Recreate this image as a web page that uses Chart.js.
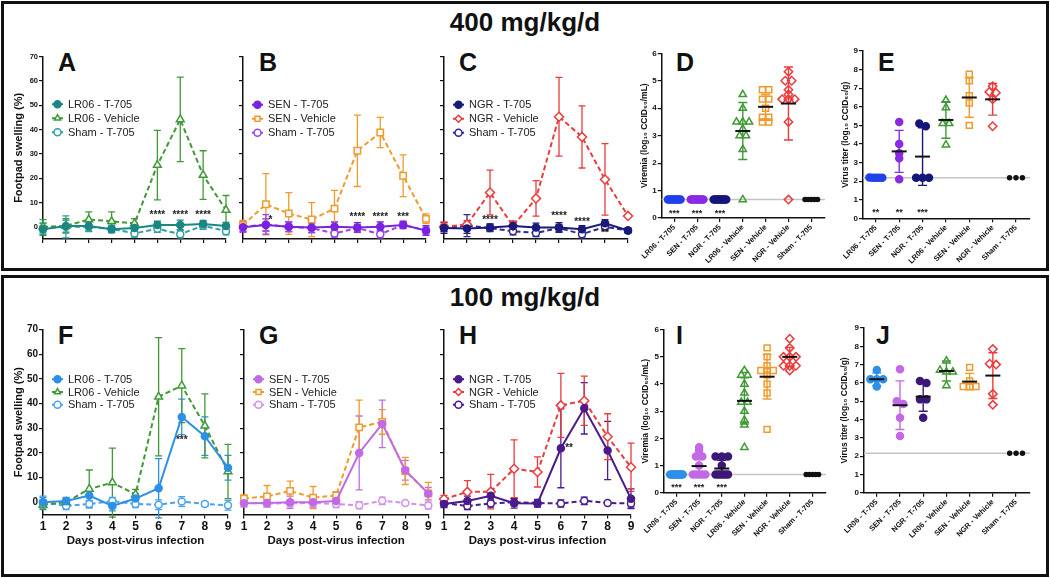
<!DOCTYPE html>
<html>
<head>
<meta charset="utf-8">
<script src="https://cdn.jsdelivr.net/npm/chart.js@4.4.1/dist/chart.umd.min.js"></script>
<style>
body { margin: 0; background: #fff; width: 1050px; height: 578px; position: relative; overflow: hidden; font-family: "Liberation Sans", Arial, sans-serif; }
canvas { position: absolute; }
.box { position: absolute; box-sizing: border-box; border: 3px solid #111; }
.ttl { position: absolute; left: 0; width: 1050px; text-align: center; font-weight: bold; font-size: 26px; line-height: 26px; color: #111; }
.lt { position: absolute; font-weight: bold; font-size: 25px; line-height: 25px; color: #111; }
</style>
</head>
<body>
<div class="box" style="left:1px;top:1px;width:1048px;height:270px"></div>
<div class="box" style="left:1px;top:275px;width:1048px;height:302px"></div>
<div class="ttl" style="top:9px">400 mg/kg/d</div>
<div class="ttl" style="top:284px">100 mg/kg/d</div>
<div class="lt" style="left:58px;top:50px">A</div>
<div class="lt" style="left:259px;top:50px">B</div>
<div class="lt" style="left:459px;top:50px">C</div>
<div class="lt" style="left:676px;top:50px">D</div>
<div class="lt" style="left:878px;top:50px">E</div>
<div class="lt" style="left:58px;top:323px">F</div>
<div class="lt" style="left:259px;top:323px">G</div>
<div class="lt" style="left:459px;top:323px">H</div>
<div class="lt" style="left:676px;top:323px">I</div>
<div class="lt" style="left:876px;top:323px">J</div>

<canvas id="cA" width="236" height="211" style="left:0px;top:40px"></canvas>
<canvas id="cB" width="200" height="211" style="left:236px;top:40px"></canvas>
<canvas id="cC" width="200" height="211" style="left:436px;top:40px"></canvas>
<canvas id="cD" width="200" height="228" style="left:632px;top:40px"></canvas>
<canvas id="cE" width="200" height="228" style="left:836px;top:40px"></canvas>
<canvas id="cF" width="238" height="260" style="left:0px;top:300px"></canvas>
<canvas id="cG" width="200" height="260" style="left:238px;top:300px"></canvas>
<canvas id="cH" width="203" height="260" style="left:438px;top:300px"></canvas>
<canvas id="cI" width="200" height="245" style="left:632px;top:300px"></canvas>
<canvas id="cJ" width="200" height="245" style="left:836px;top:300px"></canvas>

<script>
// ---- shared axes ----
var days = ['1', '2', '3', '4', '5', '6', '7', '8', '9'];
var swellTicks = [0, 10, 20, 30, 40, 50, 60, 70];
var groups = ['LR06 - T-705', 'SEN - T-705', 'NGR - T-705', 'LR06 - Vehicle', 'SEN - Vehicle', 'NGR - Vehicle', 'Sham - T-705'];
var vireTicks = [0, 1, 2, 3, 4, 5, 6];
var titerTicks = [0, 1, 2, 3, 4, 5, 6, 7, 8, 9];

// ---- A: 400 mg/kg/d, LR06 ----
var aLabels = ['LR06 - T-705', 'LR06 - Vehicle', 'Sham - T-705'];
var aT705 = [-1.0, 0.3, 0.3, -1.0, -0.5, 0.8, 0.8, 1.2, 0.3];
var aT705Sd = [2.5, 2.5, 2, 1.5, 2, 1.5, 2, 1.5, 1.5];
var aVeh = [0, 0.4, 3.0, 2.3, 1.4, 25.4, 44.2, 21.3, 6.9];
var aVehSd = [3, 3, 3.2, 3.9, 2, 14.3, 17.4, 10, 6];
var aSham = [-0.5, 0, 0, -0.8, -2.7, -0.8, -3, 0.5, -1.8];
var aShamSd = [2, 4.5, 2, 1.5, 1.5, 1.5, 1.5, 1.5, 1.5];
var aStarDay = [6, 7, 8];
var aStarVal = [4.8, 4.8, 4.8];
var aStarTxt = ['****', '****', '****'];

// ---- B: 400 mg/kg/d, SEN ----
var bLabels = ['SEN - T-705', 'SEN - Vehicle', 'Sham - T-705'];
var bT705 = [-0.2, 0.8, 0, -0.3, 0, -0.3, 0, 0.8, -1.5];
var bT705Sd = [2, 2.5, 2, 2, 2, 2, 2, 1.5, 2];
var bVeh = [0.7, 9.3, 5.5, 3, 7.5, 31.3, 38.8, 21, 3.3];
var bVehSd = [2, 12.6, 8.6, 7, 7.5, 14.7, 6.2, 8.6, 2];
var bSham = [0, 1, 0, -0.5, -2.7, -0.5, -3, 0.8, -1.5];
var bShamSd = [2, 4, 2, 2, 1.5, 1.5, 1.5, 1, 1.5];
var bStarDay = [2.2, 6, 7, 8];
var bStarVal = [2.8, 4.1, 4.1, 4.1];
var bStarTxt = ['*', '****', '****', '***'];

// ---- C: 400 mg/kg/d, NGR ----
var cLabels = ['NGR - T-705', 'NGR - Vehicle', 'Sham - T-705'];
var cT705 = [-0.5, -0.7, -0.3, 0.3, -0.3, -0.3, -1, 1.5, -1.5];
var cT705Sd = [2.2, 2, 1.5, 1.5, 1.8, 2, 1.5, 1.5, 1];
var cVeh = [0, 1, 14.1, 0.4, 11.7, 45.3, 37, 19.5, 4.5];
var cVehSd = [2, 1.5, 9.2, 2, 7.3, 16.2, 12.8, 14.7, 0];
var cSham = [-0.5, 0.5, -0.5, -1.8, -2.5, -0.5, -3, 0, -1.5];
var cShamSd = [1.5, 4.5, 1.5, 1.5, 1.5, 1.5, 1.5, 1.5, 1];
var cStarDay = [3, 6, 7, 8];
var cStarVal = [2.6, 4.5, 1.9, -2.8];
var cStarTxt = ['****', '****', '****', '**'];

// ---- F: 100 mg/kg/d, LR06 ----
var fT705 = [0, 0.5, 2.7, -1.5, 1.5, 5.7, 34.6, 26.8, 14];
var fT705Sd = [2, 1.5, 2, 2, 2, 12, 7.2, 7.8, 5];
var fVeh = [-1, 0, 5.4, 8, 3.2, 42.8, 47.3, 31, 12.5];
var fVehSd = [2, 1.5, 7.7, 14, 2, 24, 15, 13, 11];
var fSham = [0, -1.5, -0.7, 0.5, -0.7, -1, 0.3, -0.7, -1.2];
var fShamSd = [2.5, 1.5, 1.5, 1.5, 1.5, 2, 2, 1, 2];
var fStarDay = [7];
var fStarVal = [25.3];
var fStarTxt = ['***'];

// ---- G: 100 mg/kg/d, SEN ----
var gT705 = [-0.4, -0.3, 0, 0, 0.5, 20, 31.8, 13, 3.5];
var gT705Sd = [1.5, 1.5, 2.5, 2, 1.5, 15, 9.6, 4, 2.5];
var gVeh = [1.5, 2.4, 4.6, 1.9, 2.8, 30.4, 32.6, 12.7, 3.6];
var gVehSd = [1.5, 4.4, 4, 4.5, 1.5, 11, 5, 5.5, 4.5];
var gSham = [-0.3, -0.5, -0.4, -0.3, -0.7, -1.2, 0.6, -0.3, -1.3];
var gShamSd = [1.5, 1.5, 1.5, 1.5, 1.5, 1.5, 1.5, 0.5, 1.5];

// ---- H: 100 mg/kg/d, NGR ----
var hT705 = [-0.7, 0.5, 2.6, -0.4, -0.5, 21.9, 38.1, 21, 1.4];
var hT705Sd = [1.5, 2, 2, 2, 1.5, 16, 10.4, 11.8, 4];
var hVeh = [1.3, 4.2, 4.3, 13.6, 12.3, 39.3, 41.2, 26.6, 14.2];
var hVehSd = [1.5, 4.6, 7, 11.7, 6.1, 13, 10, 9.3, 9.8];
var hSham = [-0.3, -1.5, -0.5, 0, -0.3, -0.5, 0.6, -0.3, -0.5];
var hShamSd = [1.5, 1.5, 1.5, 1.5, 1.5, 1.5, 1.5, 0.5, 1.5];
var hStarDay = [6.35];
var hStarVal = [22];
var hStarTxt = ['**'];

// ---- D: viremia, 400 mg/kg/d ----
var dVals = [
  [0.67, 0.67, 0.67, 0.67, 0.67, 0.67, 0.67, 0.67, 0.67, 0.67],
  [0.67, 0.67, 0.67, 0.67, 0.67, 0.67, 0.67, 0.67, 0.67, 0.67],
  [0.67, 0.67, 0.67, 0.67, 0.67, 0.67, 0.67, 0.67, 0.67, 0.67],
  [4.5, 4.0, 3.5, 3.5, 3.5, 3.25, 3.0, 3.0, 2.5, 0.67],
  [4.67, 4.67, 4.33, 4.33, 4.0, 3.67, 3.67, 3.5, 3.5],
  [5.33, 5.0, 5.0, 4.67, 4.5, 4.33, 4.33, 4.33, 3.5, 0.67],
  [0.67, 0.67, 0.67, 0.67, 0.67]
];
var dMean = [null, null, null, 3.17, 4.05, 4.17, null];
var dSd = [0, 0, 0, 1.04, 0.45, 1.33, 0];
var dLod = 0.67;
var dStarGrp = [0, 1, 2];
var dStarVal = [0.18, 0.18, 0.18];
var dStarTxt = ['***', '***', '***'];

// ---- E: virus titer, 400 mg/kg/d ----
var eVals = [
  [2.2, 2.18, 2.18, 2.18, 2.18],
  [5.18, 4.0, 3.5, 3.23, 2.1],
  [5.1, 4.95, 2.18, 2.18, 2.18],
  [6.35, 5.95, 5.1, 5.1, 3.95],
  [7.75, 7.4, 6.6, 6.2, 5.0],
  [7.1, 6.8, 6.75, 6.4, 4.95],
  [2.18, 2.18, 2.18]
];
var eMean = [null, 3.6, 3.32, 5.29, 6.5, 6.4, null];
var eSd = [0, 1.13, 1.55, 0.98, 1.06, 0.85, 0];
var eLod = 2.18;
var eStarGrp = [0, 1, 2];
var eStarVal = [0.32, 0.32, 0.32];
var eStarTxt = ['**', '**', '***'];

// ---- I: viremia, 100 mg/kg/d ----
var iVals = [
  [0.67, 0.67, 0.67, 0.67, 0.67, 0.67, 0.67, 0.67, 0.67, 0.67],
  [1.67, 1.55, 1.33, 1.33, 1.0, 0.67, 0.67, 0.67, 0.67, 0.67],
  [1.33, 1.33, 1.33, 1.0, 0.67, 0.67, 0.67, 0.67, 0.67, 0.67],
  [4.5, 4.33, 4.33, 4.0, 3.67, 3.33, 3.33, 3.0, 2.67, 2.5, 1.67],
  [5.33, 5.0, 4.67, 4.5, 4.5, 4.5, 4.33, 4.0, 3.67, 2.33],
  [5.67, 5.33, 5.0, 5.0, 5.0, 4.67, 4.67, 4.67, 4.5],
  [0.67, 0.67, 0.67, 0.67, 0.67]
];
var iMean = [null, 0.98, 0.89, 3.38, 4.27, 5.0, null];
var iSd = [0, 0.38, 0.3, 0.85, 0.82, 0.35, 0];
var iLod = 0.67;
var iStarGrp = [0, 1, 2];
var iStarVal = [0.2, 0.2, 0.2];
var iStarTxt = ['***', '***', '***'];

// ---- J: virus titer, 100 mg/kg/d ----
var jVals = [
  [6.7, 6.2, 6.2, 6.2, 5.8],
  [6.75, 5.0, 4.85, 4.1, 3.1],
  [6.1, 6.0, 5.1, 5.1, 4.1],
  [7.2, 6.7, 6.6, 6.6, 5.85],
  [6.85, 6.1, 5.8, 5.8, 5.8],
  [7.85, 7.05, 7.0, 5.4, 4.8],
  [2.15, 2.15, 2.15]
];
var jMean = [6.2, 4.78, 5.25, 6.65, 6.07, 6.4, null];
var jSd = [0.35, 1.33, 0.8, 0.55, 0.45, 1.25, 0];
var jLod = 2.15;

var FONT = '"Liberation Sans", Arial, sans-serif';
Chart.defaults.font.family = FONT;
Chart.defaults.color = '#111';

// error bars, LOD line, mean/SD, stars and in-plot legend
var extras = {
  id: 'extras',
  beforeDatasetsDraw: function (chart, args, o) {
    var ctx = chart.ctx, ys = chart.scales.y, ca = chart.chartArea;
    ctx.save();
    if (o.lod != null) {
      var yl = ys.getPixelForValue(o.lod);
      ctx.strokeStyle = '#c4c4c4';
      ctx.lineWidth = 1.5;
      ctx.beginPath(); ctx.moveTo(ca.left, yl); ctx.lineTo(ca.right, yl); ctx.stroke();
    }
    (o.sd || []).forEach(function (sd, i) {
      var ds = chart.data.datasets[i], meta = chart.getDatasetMeta(i);
      ctx.strokeStyle = ds.borderColor;
      ctx.lineWidth = 1.3;
      sd.forEach(function (s, j) {
        if (!s) return;
        var x = meta.data[j].x, v = ds.data[j];
        var y1 = ys.getPixelForValue(v + s), y2 = ys.getPixelForValue(v - s);
        ctx.beginPath();
        ctx.moveTo(x, y1); ctx.lineTo(x, y2);
        ctx.moveTo(x - 3.5, y1); ctx.lineTo(x + 3.5, y1);
        ctx.moveTo(x - 3.5, y2); ctx.lineTo(x + 3.5, y2);
        ctx.stroke();
      });
    });
    ctx.restore();
  },
  afterDatasetsDraw: function (chart, args, o) {
    var ctx = chart.ctx, xs = chart.scales.x, ys = chart.scales.y, ca = chart.chartArea;
    ctx.save();
    if (o.mean) {
      o.mean.forEach(function (m, i) {
        if (m == null) return;
        var x = xs.getPixelForValue(i), y = ys.getPixelForValue(m);
        var y1 = ys.getPixelForValue(m + o.spread[i]), y2 = ys.getPixelForValue(m - o.spread[i]);
        ctx.strokeStyle = chart.data.datasets[i].borderColor;
        ctx.lineWidth = 1.4;
        ctx.beginPath();
        ctx.moveTo(x, y1); ctx.lineTo(x, y2);
        ctx.moveTo(x - 4.5, y1); ctx.lineTo(x + 4.5, y1);
        ctx.moveTo(x - 4.5, y2); ctx.lineTo(x + 4.5, y2);
        ctx.stroke();
        ctx.strokeStyle = '#111';
        ctx.lineWidth = 2;
        ctx.beginPath(); ctx.moveTo(x - 7.5, y); ctx.lineTo(x + 7.5, y); ctx.stroke();
      });
    }
    if (o.stars) {
      ctx.fillStyle = '#222';
      ctx.font = 'bold ' + o.stars.size + 'px ' + FONT;
      ctx.textAlign = 'center';
      ctx.textBaseline = 'middle';
      o.stars.x.forEach(function (sx, k) {
        ctx.fillText(o.stars.t[k], xs.getPixelForValue(sx), ys.getPixelForValue(o.stars.y[k]));
      });
    }
    if (o.legend) {
      var L = o.legend;
      chart.data.datasets.forEach(function (ds, i) {
        var y = ca.top + L.top + i * L.gap, x0 = ca.left + 9;
        ctx.strokeStyle = ds.borderColor;
        ctx.lineWidth = 2;
        ctx.setLineDash(ds.borderDash || []);
        ctx.beginPath(); ctx.moveTo(x0, y); ctx.lineTo(x0 + 11, y); ctx.stroke();
        ctx.setLineDash([]);
        ctx.fillStyle = ds.pointBackgroundColor;
        ctx.lineWidth = 1.5;
        Chart.helpers.drawPoint(ctx, { pointStyle: ds.pointStyle, radius: 3.5, borderWidth: 1.5, rotation: 0 }, x0 + 5.5, y);
        ctx.fillStyle = '#222';
        ctx.font = L.size + 'px ' + FONT;
        ctx.textAlign = 'left';
        ctx.textBaseline = 'middle';
        ctx.fillText(ds.label, ca.left + 25, y + 0.5);
      });
    }
    ctx.restore();
  }
};

function axisBase() {
  return {
    grid: { display: true, drawOnChartArea: false, drawTicks: true, tickLength: 4, color: '#111', lineWidth: 1.2 },
    border: { display: true, color: '#111', width: 1.5 }
  };
}

function lineChart(id, c) {
  var styles = ['circle', c.vehStyle, 'circle'];
  var datasets = c.series.map(function (d, i) {
    var open = i > 0;
    return {
      label: c.labels[i],
      data: d,
      borderColor: c.colors[i],
      backgroundColor: open ? '#fff' : c.colors[i],
      pointBackgroundColor: open ? '#fff' : c.colors[i],
      borderWidth: 2,
      borderDash: open ? [5, 3] : [],
      pointStyle: styles[i],
      pointRadius: styles[i] === 'circle' ? 3.5 : 4.5,
      pointBorderWidth: 1.5,
      tension: 0
    };
  });
  var x = axisBase(), y = axisBase();
  x.type = 'category';
  x.offset = false;
  x.ticks = { display: c.showX, font: { size: 12, weight: 'bold' }, padding: 1, maxRotation: 0, autoSkip: false };
  x.title = { display: c.showX, text: 'Days post-virus infection', font: { size: 11.5, weight: 'bold' }, padding: { top: 0, bottom: 12.6 } };
  x.afterFit = function (s) { s.height = c.xH; };
  y.type = 'linear';
  y.min = -5;
  y.max = 70;
  y.afterBuildTicks = function (s) { s.ticks = swellTicks.map(function (v) { return { value: v }; }); };
  y.ticks = { display: c.showY, font: { size: c.yFont, weight: 'bold' }, padding: 1 };
  y.title = { display: c.showY, text: 'Footpad swelling (%)', font: { size: 11, weight: 'bold' }, padding: { top: 12, bottom: 0 } };
  y.afterFit = function (s) { s.width = c.yW; };
  return new Chart(document.getElementById(id), {
    type: 'line',
    data: { labels: days, datasets: datasets },
    options: {
      responsive: false,
      animation: false,
      layout: { padding: { left: 0, top: c.topPad, right: c.rightPad, bottom: 0 } },
      plugins: {
        legend: { display: false },
        tooltip: { enabled: false },
        extras: {
          sd: c.sds,
          stars: c.stars ? { x: c.stars[0].map(function (d) { return d - 1; }), y: c.stars[1], t: c.stars[2], size: 10 } : null,
          legend: { top: c.legTop, gap: c.legGap, size: 11 }
        }
      },
      scales: { x: x, y: y }
    },
    plugins: [extras]
  });
}

// spread points with (nearly) equal values side by side
function spread(vals, idx, bin) {
  var sorted = vals.slice().sort(function (a, b) { return b - a; });
  var clusters = [];
  sorted.forEach(function (v) {
    var last = clusters[clusters.length - 1];
    if (last && last[0] - v <= bin) last.push(v); else clusters.push([v]);
  });
  var pts = [];
  clusters.forEach(function (cl) {
    var n = cl.length, step = n > 1 ? Math.min(0.28, 0.55 / (n - 1)) : 0;
    cl.forEach(function (v, k) { pts.push({ x: idx + (k - (n - 1) / 2) * step, y: v }); });
  });
  return pts;
}

function dotChart(id, c) {
  var styles = ['circle', 'circle', 'circle', 'triangle', 'rect', 'rectRot', 'circle'];
  var datasets = c.vals.map(function (v, i) {
    var open = i >= 3 && i <= 5;
    return {
      label: groups[i],
      data: spread(v, i, c.bin),
      pointStyle: styles[i],
      pointRadius: i === 6 ? 2 : (open ? 4.2 : 3.5),
      borderColor: c.colors[i],
      backgroundColor: open ? 'rgba(255,255,255,0)' : c.colors[i],
      pointBackgroundColor: open ? 'rgba(255,255,255,0)' : c.colors[i],
      borderWidth: 1.5
    };
  });
  var x = axisBase(), y = axisBase();
  x.type = 'linear';
  x.min = -0.55;
  x.max = 6.6;
  x.afterBuildTicks = function (s) { s.ticks = groups.map(function (g, i) { return { value: i }; }); };
  x.ticks = { font: { size: 7.5, weight: 'bold' }, minRotation: 45, maxRotation: 45, autoSkip: false, padding: 1,
              callback: function (v) { return groups[v]; } };
  x.afterFit = function (s) { s.height = c.xH; };
  y.type = 'linear';
  y.min = 0;
  y.max = c.ticks[c.ticks.length - 1];
  y.afterBuildTicks = function (s) { s.ticks = c.ticks.map(function (v) { return { value: v }; }); };
  y.ticks = { font: { size: 8, weight: 'bold' }, padding: 1 };
  y.title = { display: true, text: c.title, font: { size: 8.5, weight: 'bold' }, padding: { top: c.titlePad, bottom: 0 } };
  y.afterFit = function (s) { s.width = c.yW; };
  return new Chart(document.getElementById(id), {
    type: 'scatter',
    data: { datasets: datasets },
    options: {
      responsive: false,
      animation: false,
      layout: { padding: { left: 0, top: c.topPad, right: c.rightPad, bottom: 0 } },
      plugins: {
        legend: { display: false },
        tooltip: { enabled: false },
        extras: {
          lod: c.lod,
          mean: c.mean,
          spread: c.sd,
          stars: c.stars ? { x: c.stars[0], y: c.stars[1], t: c.stars[2], size: 9 } : null
        }
      },
      scales: { x: x, y: y }
    },
    plugins: [extras]
  });
}

// ---- line panels ----
lineChart('cA', { labels: aLabels, series: [aT705, aVeh, aSham], sds: [aT705Sd, aVehSd, aShamSd],
  colors: ['#1b8784', '#3f9a36', '#2ea0a0'], vehStyle: 'triangle', stars: [aStarDay, aStarVal, aStarTxt],
  yW: 43, rightPad: 10, topPad: 16.7, xH: 12, showX: false, showY: true, yFont: 7.5, legTop: 47.5, legGap: 14 });
lineChart('cB', { labels: bLabels, series: [bT705, bVeh, bSham], sds: [bT705Sd, bVehSd, bShamSd],
  colors: ['#7b22e0', '#f19a2c', '#9a45ea'], vehStyle: 'rect', stars: [bStarDay, bStarVal, bStarTxt],
  yW: 7, rightPad: 10, topPad: 16.7, xH: 12, showX: false, showY: false, yFont: 7.5, legTop: 48, legGap: 14 });
lineChart('cC', { labels: cLabels, series: [cT705, cVeh, cSham], sds: [cT705Sd, cVehSd, cShamSd],
  colors: ['#1a1a7c', '#ec3b3b', '#2b2b92'], vehStyle: 'rectRot', stars: [cStarDay, cStarVal, cStarTxt],
  yW: 8, rightPad: 8, topPad: 16.7, xH: 12, showX: false, showY: false, yFont: 7.5, legTop: 48, legGap: 14 });
lineChart('cF', { labels: aLabels, series: [fT705, fVeh, fSham], sds: [fT705Sd, fVehSd, fShamSd],
  colors: ['#2e8fe6', '#3f9a36', '#4aa2ee'], vehStyle: 'triangle', stars: [fStarDay, fStarVal, fStarTxt],
  yW: 43, rightPad: 10, topPad: 29.7, xH: 45.4, showX: true, showY: true, yFont: 10, legTop: 49.5, legGap: 12.8 });
lineChart('cG', { labels: bLabels, series: [gT705, gVeh, gSham], sds: [gT705Sd, gVehSd, gShamSd],
  colors: ['#c269e6', '#f19a2c', '#d190f0'], vehStyle: 'rect', stars: null,
  yW: 5.3, rightPad: 9.7, topPad: 29.7, xH: 45.4, showX: true, showY: false, yFont: 10, legTop: 49.5, legGap: 12.8 });
lineChart('cH', { labels: cLabels, series: [hT705, hVeh, hSham], sds: [hT705Sd, hVehSd, hShamSd],
  colors: ['#4a1b8c', '#ec3b3b', '#4a1b8c'], vehStyle: 'rectRot', stars: [hStarDay, hStarVal, hStarTxt],
  yW: 6, rightPad: 10, topPad: 29.7, xH: 45.4, showX: true, showY: false, yFont: 10, legTop: 49.5, legGap: 12.8 });

// ---- dot panels ----
var row1Colors = ['#2040ea', '#8a2be2', '#16167a', '#3f9a36', '#f19a2c', '#ec3b3b', '#111111'];
var row2Colors = ['#2e8fe6', '#c269e6', '#3c1878', '#3f9a36', '#f19a2c', '#ec3b3b', '#111111'];
var vireTitle = 'Viremia (log\u2081\u2080 CCID\u2085\u2080/mL)';
var titerTitle = 'Virus titer (log\u2081\u2080 CCID\u2085\u2080/g)';

dotChart('cD', { vals: dVals, mean: dMean, sd: dSd, lod: dLod, colors: row1Colors, ticks: vireTicks, title: vireTitle,
  stars: [dStarGrp, dStarVal, dStarTxt], bin: 0.1, yW: 29.7, rightPad: 7, topPad: 13.3, xH: 50, titlePad: 7.9 });
dotChart('cE', { vals: eVals, mean: eMean, sd: eSd, lod: eLod, colors: row1Colors, ticks: titerTicks, title: titerTitle,
  stars: [eStarGrp, eStarVal, eStarTxt], bin: 0.2, yW: 27, rightPad: 6, topPad: 11, xH: 49.7, titlePad: 4.9 });
dotChart('cI', { vals: iVals, mean: iMean, sd: iSd, lod: iLod, colors: row2Colors, ticks: vireTicks, title: vireTitle,
  stars: [iStarGrp, iStarVal, iStarTxt], bin: 0.1, yW: 32, rightPad: 6, topPad: 29.7, xH: 52.3, titlePad: 8.9 });
dotChart('cJ', { vals: jVals, mean: jMean, sd: jSd, lod: jLod, colors: row2Colors, ticks: titerTicks, title: titerTitle,
  stars: null, bin: 0.2, yW: 28, rightPad: 6, topPad: 28, xH: 52.3, titlePad: 3.9 });
</script>
</body>
</html>
